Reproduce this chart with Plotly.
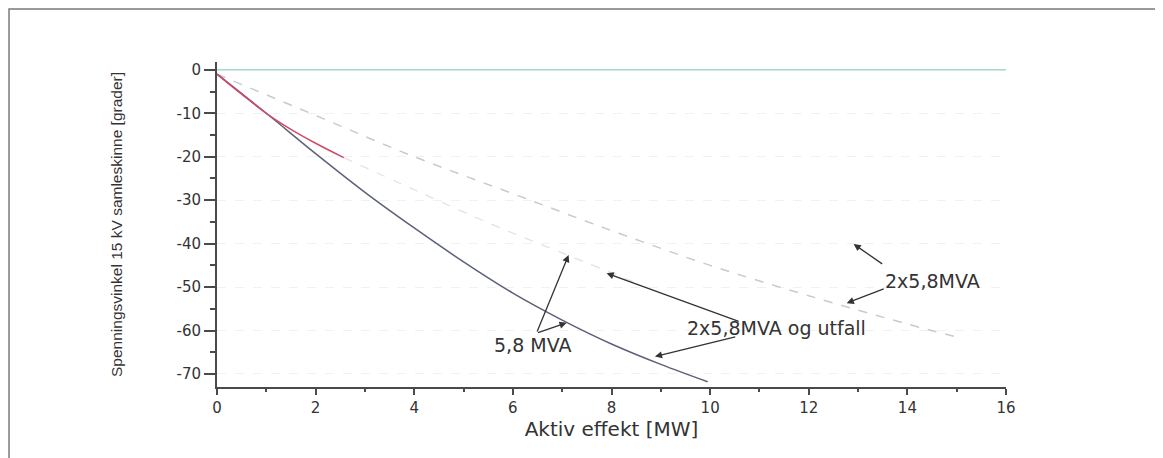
import plotly.graph_objects as go

# ---- data ----
zero_p = [0, 16]
zero_v = [0, 0]

lower_p = [0, 1, 2, 3, 4, 5, 6, 7, 8, 9, 9.95]
lower_v = [-1, -10, -19.3, -28.2, -36.4, -44.2, -51.4, -57.6, -63.1, -67.8, -71.8]

red_p = [0, 0.5, 1.0, 1.5, 2.0, 2.57]
red_v = [-1, -5.6, -10, -13.7, -16.9, -20.2]

mid_p = [2.57, 4, 5.5, 7.1, 8.6]
mid_v = [-20.2, -27.6, -35.2, -42.6, -49.5]

upper_p = [0, 2, 4, 6, 8, 10, 12, 14, 15]
upper_v = [-1, -10.5, -20, -28.5, -37, -45, -52, -58.5, -61.5]

x_ticks = [0, 2, 4, 6, 8, 10, 12, 14, 16]
y_ticks = [0, -10, -20, -30, -40, -50, -60, -70]

label_58 = "5,8 MVA"
label_2x_utfall = "2x5,8MVA og utfall"
label_2x = "2x5,8MVA"
x_title = "Aktiv effekt [MW]"
y_title = "Spenningsvinkel 15 kV samleskinne [grader]"

# ---- figure ----
fig = go.Figure()
fig.add_trace(go.Scatter(x=zero_p, y=zero_v, mode="lines",
                         line=dict(color="#a6d6cf", width=1.5), showlegend=False))
fig.add_trace(go.Scatter(x=upper_p, y=upper_v, mode="lines", line_shape="spline",
                         line=dict(color="#c6cad2", width=1.5, dash="dash"), showlegend=False))
fig.add_trace(go.Scatter(x=mid_p, y=mid_v, mode="lines", line_shape="spline",
                         line=dict(color="#dfe1e6", width=1.2, dash="dash"), showlegend=False))
fig.add_trace(go.Scatter(x=lower_p, y=lower_v, mode="lines", line_shape="spline",
                         line=dict(color="#5d6178", width=1.5), showlegend=False))
fig.add_trace(go.Scatter(x=red_p, y=red_v, mode="lines", line_shape="spline",
                         line=dict(color="#cf4a68", width=1.5), showlegend=False))

font_main = "DejaVu Sans, Arial, sans-serif"
txt_color = "#333333"

# text labels (center positions in data units)
texts = [
    (label_58, 6.39, -63.4),
    (label_2x_utfall, 11.34, -59.4),
    (label_2x, 14.5, -48.6),
]
for t, x, y in texts:
    fig.add_annotation(x=x, y=y, text=t, showarrow=False,
                       font=dict(family=font_main, size=19, color=txt_color),
                       xanchor="center", yanchor="middle")

# arrows: (head_x, head_y, tail_x, tail_y)
arrows = [
    (7.13, -42.6, 6.48, -60.6),
    (7.09, -58.2, 6.48, -60.6),
    (7.90, -46.8, 10.61, -58.0),
    (8.88, -66.0, 10.54, -61.4),
    (12.91, -40.1, 13.52, -44.9),
    (12.77, -53.7, 13.55, -50.3),
]
for hx, hy, tx, ty in arrows:
    fig.add_annotation(x=hx, y=hy, ax=tx, ay=ty, axref="x", ayref="y",
                       text="", showarrow=True, arrowhead=2, arrowsize=1.1,
                       arrowwidth=1.3, arrowcolor="#333333", standoff=0, startstandoff=0)

# outer frame
fig.add_shape(type="rect", xref="paper", yref="paper",
              x0=-0.2636, x1=1.1977, y0=-0.3, y1=1.163,
              line=dict(color="#7a7a7a", width=1.5), fillcolor="rgba(0,0,0,0)", layer="below")

fig.update_layout(
    width=1163, height=458,
    margin=dict(l=209, r=165, t=54, b=79),
    paper_bgcolor="white", plot_bgcolor="white",
    showlegend=False,
)
fig.update_xaxes(
    range=[0, 16], tickvals=x_ticks, ticktext=[str(v) for v in x_ticks],
    showline=True, linecolor="#4a4a4a", linewidth=2, mirror=False,
    ticks="outside", ticklen=6, tickwidth=1.5, tickcolor="#4a4a4a",
    minor=dict(dtick=1, ticks="outside", ticklen=3, tickwidth=1.5, tickcolor="#4a4a4a"),
    showgrid=False, zeroline=False,
    tickfont=dict(family=font_main, size=15, color=txt_color),
    title=dict(text=x_title, font=dict(family=font_main, size=20, color=txt_color), standoff=6),
)
fig.update_yaxes(
    range=[-73, 1.8], tickvals=y_ticks, ticktext=[("-" + str(-v)) if v < 0 else str(v) for v in y_ticks],
    showline=True, linecolor="#4a4a4a", linewidth=2, mirror=False,
    ticks="outside", ticklen=11, tickwidth=1.5, tickcolor="#4a4a4a",
    minor=dict(dtick=5, ticks="outside", ticklen=5, tickwidth=1.5, tickcolor="#4a4a4a"),
    showgrid=True, gridcolor="#f1f1f1", gridwidth=1, griddash="dash",
    zeroline=False,
    tickfont=dict(family=font_main, size=15, color=txt_color),
    title=dict(text=y_title, font=dict(family="Liberation Sans Narrow, Liberation Sans, Arial, sans-serif", size=15.5, color=txt_color), standoff=50),
)

fig.write_html("out.html")
